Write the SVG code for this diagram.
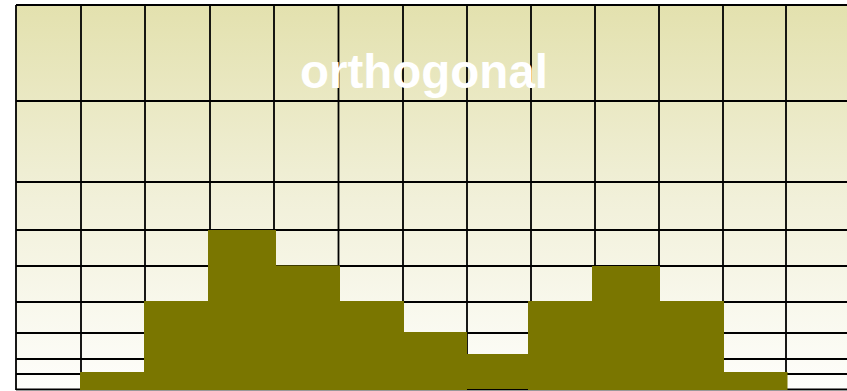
<svg xmlns="http://www.w3.org/2000/svg" width="847" height="391" viewBox="0 0 847 391">
<defs>
<linearGradient id="bg" x1="0" y1="0" x2="0" y2="1">
<stop offset="0" stop-color="#e3e1ae"/>
<stop offset="0.5" stop-color="#f1f0d9"/>
<stop offset="1" stop-color="#fefefb"/>
</linearGradient>
<style>
.g{stroke:#000;stroke-width:1.8;fill:none}
.bar{fill:#7a7600}
.t{font-family:"Liberation Sans",Arial,sans-serif;font-weight:bold;font-size:47.5px;fill:#fff}
</style>
</defs>
<rect x="16" y="5" width="831" height="385" fill="url(#bg)"/>
<g id="grid" class="g">
<path d="M16,5V390M81,5V390M145,5V390M210,5V390M274,5V390M338.5,5V390M403,5V390M467,5V390M531,5V390M595,5V390M659,5V390M723,5V390M786,5V390"/>
<path d="M16,5H847M16,101H847M16,182H847M16,230H847M16,266H847M16,302H847M16,333H847M16,359H847M16,374H847M16,389.5H847"/>
</g>
<line x1="16" y1="390.5" x2="847" y2="390.5" stroke="#999" stroke-width="1"/>
<g id="bars">
<rect class="bar" x="80" y="372" width="64" height="18"/>
<rect class="bar" x="144" y="301" width="64" height="89"/>
<rect class="bar" x="208" y="230" width="68" height="160"/>
<rect class="bar" x="276" y="265.5" width="64" height="124.5"/>
<rect class="bar" x="340" y="301" width="64" height="89"/>
<rect class="bar" x="404" y="332" width="63" height="58"/>
<rect class="bar" x="467" y="354" width="61" height="35"/>
<rect class="bar" x="528" y="301" width="64" height="89"/>
<rect class="bar" x="592" y="266" width="68" height="124"/>
<rect class="bar" x="660" y="301" width="64" height="89"/>
<rect class="bar" x="724" y="372" width="63.5" height="18"/>
</g>
<g id="title">
<text class="t" x="424" y="88" text-anchor="middle">orthogonal</text>
</g>
</svg>
